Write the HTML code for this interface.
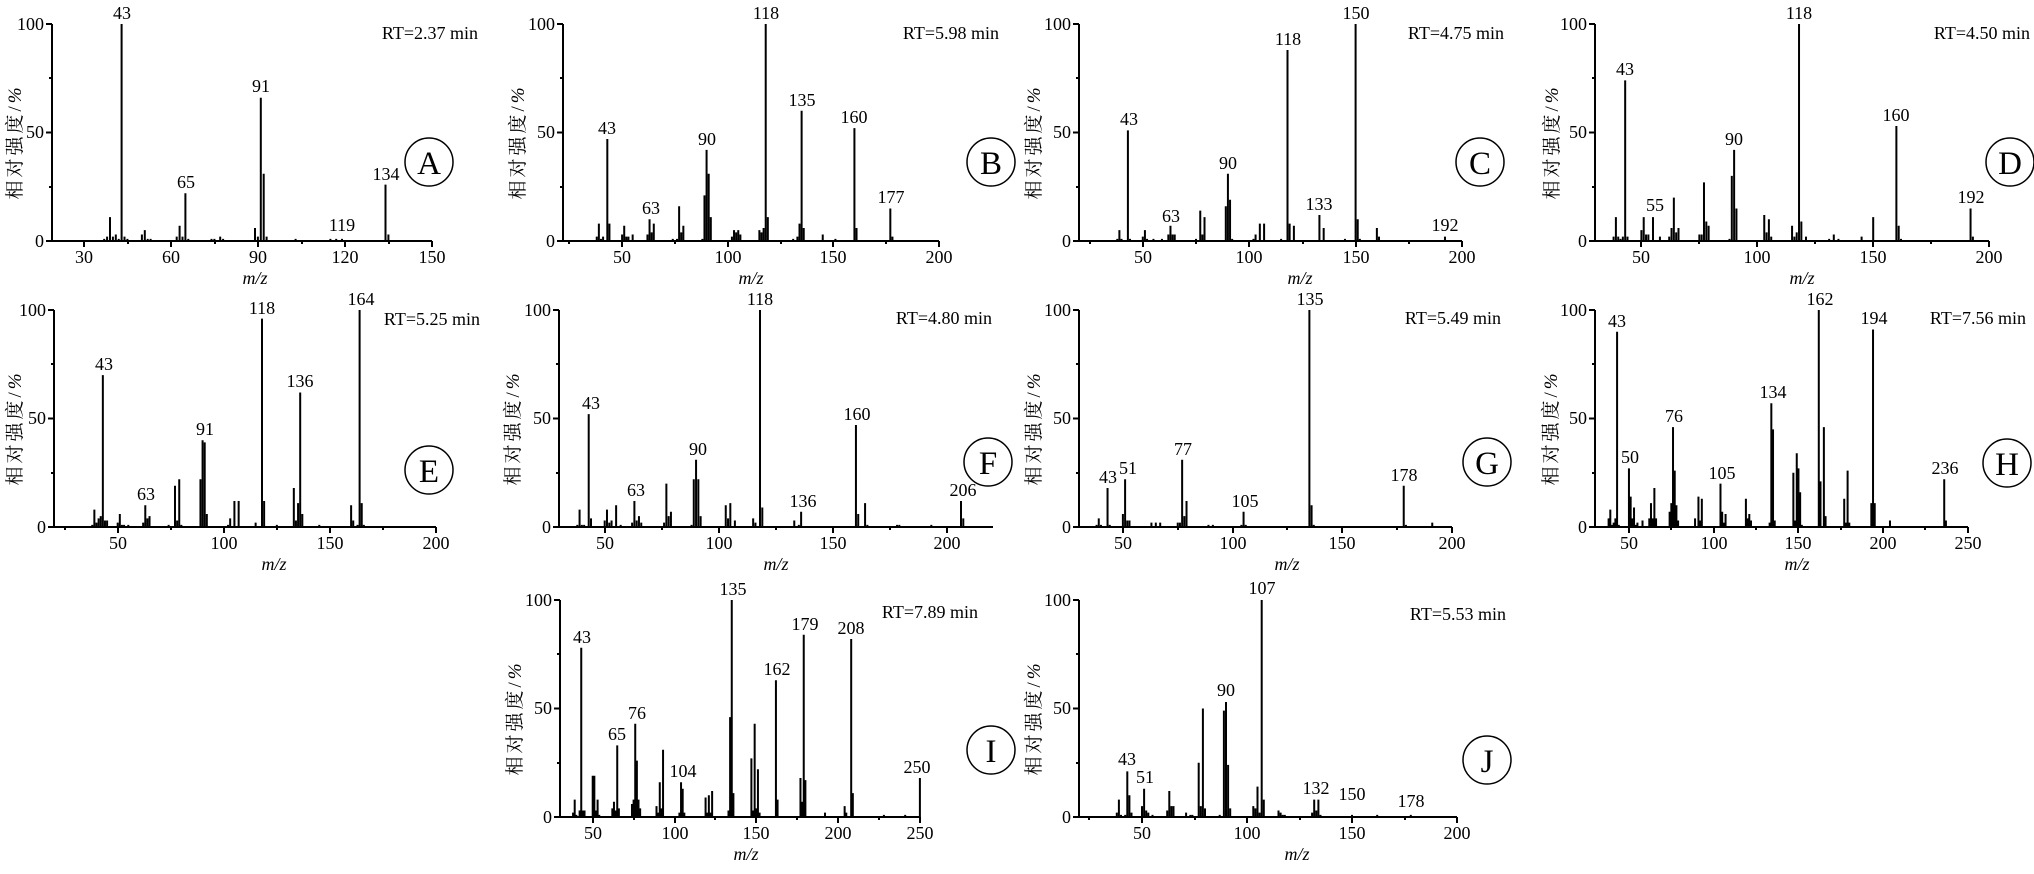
<!DOCTYPE html>
<html><head><meta charset="utf-8"><style>
html,body{margin:0;padding:0;background:#fff;}
svg{display:block;}
text{font-family:"Liberation Serif","Noto Serif CJK SC",serif;font-size:18px;fill:#000;}
.m{text-anchor:middle}.e{text-anchor:end}
.yl{font-size:19px;letter-spacing:3px;text-anchor:middle;font-family:"Liberation Serif","Noto Serif CJK SC",serif;}
.mz{font-style:italic;text-anchor:middle}
.c{font-size:33px;text-anchor:middle}
.bar{fill:none;stroke:#000;stroke-width:2;vector-effect:non-scaling-stroke}
.ax{stroke:#000;stroke-width:2;fill:none}
circle{fill:none;stroke:#000;stroke-width:1.5}
</style></head><body>
<svg width="2034" height="874" viewBox="0 0 2034 874" xmlns="http://www.w3.org/2000/svg">

<!-- ===== A ===== -->
<g transform="translate(-3.1,241) scale(2.9,-2.17)"><path class="bar" d="M37 0V1M38 0V2M39 0V11M40 0V2M41 0V3M42 0V1M43 0V100M44 0V2M45 0V1M50 0V3M51 0V5M52 0V1M53 0V1M62 0V2M63 0V7M64 0V2M65 0V22M66 0V1M74 0V1M75 0V1M77 0V2M78 0V1M89 0V6M90 0V2M91 0V66M92 0V31M93 0V2M103 0V1M115 0V1M117 0V1M119 0V1M134 0V26M135 0V3"/></g>
<path class="ax" d="M52 24V241H432M52 24h-6M52 78h-3M52 132.5h-6M52 187h-3M52 241h-6M84 241v6M171 241v6M258 241v6M345 241v6M432 241v6M128 241v3M215 241v3M302 241v3M389 241v3"/>
<text class="e" x="44" y="30">100</text><text class="e" x="44" y="138">50</text><text class="e" x="44" y="247">0</text>
<text class="m" x="84" y="263">30</text><text class="m" x="171" y="263">60</text><text class="m" x="258" y="263">90</text><text class="m" x="345" y="263">120</text><text class="m" x="432" y="263">150</text>
<text class="mz" x="255" y="284">m/z</text>
<text class="yl" transform="translate(21,142) rotate(-90)">相对强度/<tspan font-style="italic">%</tspan></text>
<text class="e" x="478" y="39">RT=2.37 min</text>
<text class="m" x="122" y="19">43</text><text class="m" x="261" y="92">91</text><text class="m" x="186" y="188">65</text><text class="m" x="342" y="231">119</text><text class="m" x="386" y="180">134</text>
<circle cx="429" cy="162" r="24"/><text class="c" x="429" cy="0" y="174">A</text>

<!-- ===== B ===== -->
<g transform="translate(516.5,241) scale(2.112,-2.17)"><path class="bar" d="M38 0V2M39 0V8M40 0V1M41 0V2M43 0V47M44 0V8M50 0V3M51 0V7M52 0V2M53 0V2M55 0V3M62 0V3M63 0V10M64 0V4M65 0V8M74 0V1M76 0V1M77 0V16M78 0V4M79 0V7M88 0V1M89 0V21M90 0V42M91 0V31M92 0V11M102 0V2M103 0V5M104 0V4M105 0V5M106 0V3M115 0V5M116 0V4M117 0V6M118 0V100M119 0V11M131 0V1M133 0V2M134 0V8M135 0V60M136 0V6M145 0V3M151 0V1M160 0V52M161 0V6M177 0V15M178 0V2"/></g>
<path class="ax" d="M563 24V241H939M563 24h-6M563 78h-3M563 132.5h-6M563 187h-3M563 241h-6M622 241v6M728 241v6M833 241v6M939 241v6M569 241v3M675 241v3M781 241v3M886 241v3"/>
<text class="e" x="555" y="30">100</text><text class="e" x="555" y="138">50</text><text class="e" x="555" y="247">0</text>
<text class="m" x="622" y="263">50</text><text class="m" x="728" y="263">100</text><text class="m" x="833" y="263">150</text><text class="m" x="939" y="263">200</text>
<text class="mz" x="751" y="284">m/z</text>
<text class="yl" transform="translate(524,142) rotate(-90)">相对强度/<tspan font-style="italic">%</tspan></text>
<text class="e" x="999" y="39">RT=5.98 min</text>
<text class="m" x="607" y="134">43</text><text class="m" x="651" y="214">63</text><text class="m" x="707" y="145">90</text><text class="m" x="766" y="19">118</text><text class="m" x="802" y="106">135</text><text class="m" x="854" y="123">160</text><text class="m" x="891" y="203">177</text>
<circle cx="991" cy="162" r="24"/><text class="c" x="991" y="174">B</text>

<!-- ===== C ===== -->
<g transform="translate(1036.4,241) scale(2.128,-2.17)"><path class="bar" d="M38 0V1M39 0V5M40 0V1M43 0V51M44 0V1M50 0V2M51 0V5M52 0V1M55 0V1M59 0V1M62 0V3M63 0V7M64 0V3M65 0V3M75 0V1M77 0V14M78 0V3M79 0V11M89 0V16M90 0V31M91 0V19M92 0V1M102 0V1M103 0V3M105 0V8M107 0V8M115 0V1M118 0V88M119 0V8M121 0V7M133 0V12M135 0V6M145 0V1M150 0V100M151 0V10M152 0V1M160 0V6M161 0V2M192 0V2"/></g>
<path class="ax" d="M1079 24V241H1462M1079 24h-6M1079 78h-3M1079 132.5h-6M1079 187h-3M1079 241h-6M1143 241v6M1249 241v6M1356 241v6M1462 241v6M1090 241v3M1196 241v3M1303 241v3M1409 241v3"/>
<text class="e" x="1071" y="30">100</text><text class="e" x="1071" y="138">50</text><text class="e" x="1071" y="247">0</text>
<text class="m" x="1143" y="263">50</text><text class="m" x="1249" y="263">100</text><text class="m" x="1356" y="263">150</text><text class="m" x="1462" y="263">200</text>
<text class="mz" x="1300" y="284">m/z</text>
<text class="yl" transform="translate(1040,142) rotate(-90)">相对强度/<tspan font-style="italic">%</tspan></text>
<text class="e" x="1504" y="39">RT=4.75 min</text>
<text class="m" x="1129" y="125">43</text><text class="m" x="1171" y="222">63</text><text class="m" x="1228" y="169">90</text><text class="m" x="1288" y="45">118</text><text class="m" x="1319" y="210">133</text><text class="m" x="1356" y="19">150</text><text class="m" x="1445" y="231">192</text>
<circle cx="1480" cy="162" r="24"/><text class="c" x="1480" y="174">C</text>

<!-- ===== D ===== -->
<g transform="translate(1525.5,241) scale(2.318,-2.17)"><path class="bar" d="M38 0V2M39 0V11M40 0V2M41 0V1M42 0V2M43 0V74M44 0V2M50 0V5M51 0V11M52 0V3M53 0V3M55 0V11M58 0V2M62 0V2M63 0V6M64 0V20M65 0V4M66 0V6M75 0V3M76 0V3M77 0V27M78 0V9M79 0V7M88 0V1M89 0V30M90 0V42M91 0V15M103 0V12M104 0V4M105 0V10M106 0V2M115 0V7M116 0V2M117 0V4M118 0V100M119 0V9M121 0V2M131 0V1M133 0V3M135 0V1M145 0V2M150 0V11M160 0V53M161 0V7M162 0V1M192 0V15M193 0V2"/></g>
<path class="ax" d="M1595 24V241H1989M1595 24h-6M1595 78h-3M1595 132.5h-6M1595 187h-3M1595 241h-6M1641 241v6M1757 241v6M1873 241v6M1989 241v6M1699 241v3M1815 241v3M1931 241v3"/>
<text class="e" x="1587" y="30">100</text><text class="e" x="1587" y="138">50</text><text class="e" x="1587" y="247">0</text>
<text class="m" x="1641" y="263">50</text><text class="m" x="1757" y="263">100</text><text class="m" x="1873" y="263">150</text><text class="m" x="1989" y="263">200</text>
<text class="mz" x="1802" y="284">m/z</text>
<text class="yl" transform="translate(1558,142) rotate(-90)">相对强度/<tspan font-style="italic">%</tspan></text>
<text class="e" x="2030" y="39">RT=4.50 min</text>
<text class="m" x="1625" y="75">43</text><text class="m" x="1655" y="211">55</text><text class="m" x="1734" y="145">90</text><text class="m" x="1799" y="19">118</text><text class="m" x="1896" y="121">160</text><text class="m" x="1971" y="203">192</text>
<circle cx="2010" cy="162" r="24"/><text class="c" x="2010" y="174">D</text>

<!-- ===== E ===== -->
<g transform="translate(11.6,527) scale(2.122,-2.17)"><path class="bar" d="M38 0V1M39 0V8M40 0V2M41 0V4M42 0V5M43 0V70M44 0V3M45 0V3M50 0V2M51 0V6M52 0V1M53 0V1M55 0V1M62 0V2M63 0V10M64 0V4M65 0V5M74 0V1M77 0V19M78 0V3M79 0V22M80 0V1M89 0V22M90 0V40M91 0V39M92 0V6M102 0V1M103 0V4M105 0V12M107 0V12M115 0V2M118 0V96M119 0V12M125 0V1M133 0V18M134 0V3M135 0V11M136 0V62M137 0V6M145 0V1M160 0V10M161 0V3M163 0V1M164 0V100M165 0V11M166 0V1"/></g>
<path class="ax" d="M54 310V527H436M54 310h-6M54 364h-3M54 418.5h-6M54 473h-3M54 527h-6M118 527v6M224 527v6M330 527v6M436 527v6M65 527v3M171 527v3M277 527v3M383 527v3"/>
<text class="e" x="46" y="316">100</text><text class="e" x="46" y="424">50</text><text class="e" x="46" y="533">0</text>
<text class="m" x="118" y="549">50</text><text class="m" x="224" y="549">100</text><text class="m" x="330" y="549">150</text><text class="m" x="436" y="549">200</text>
<text class="mz" x="274" y="570">m/z</text>
<text class="yl" transform="translate(21,428) rotate(-90)">相对强度/<tspan font-style="italic">%</tspan></text>
<text class="e" x="480" y="325">RT=5.25 min</text>
<text class="m" x="104" y="370">43</text><text class="m" x="146" y="500">63</text><text class="m" x="205" y="435">91</text><text class="m" x="262" y="314">118</text><text class="m" x="300" y="387">136</text><text class="m" x="361" y="305">164</text>
<circle cx="429" cy="470" r="24"/><text class="c" x="429" y="482">E</text>

<!-- ===== F ===== -->
<g transform="translate(490.5,527) scale(2.284,-2.17)"><path class="bar" d="M38 0V1M39 0V8M40 0V1M41 0V1M43 0V52M44 0V4M50 0V3M51 0V8M52 0V2M53 0V3M55 0V10M57 0V1M62 0V2M63 0V12M64 0V3M65 0V5M66 0V2M76 0V2M77 0V20M78 0V5M79 0V7M88 0V1M89 0V22M90 0V31M91 0V22M92 0V5M103 0V10M104 0V4M105 0V11M107 0V3M115 0V4M116 0V2M118 0V100M119 0V9M133 0V3M135 0V1M136 0V7M160 0V47M161 0V6M164 0V11M165 0V1M178 0V1M179 0V1M193 0V1M206 0V12M207 0V4"/></g>
<path class="ax" d="M559 310V527H993M559 310h-6M559 364h-3M559 418.5h-6M559 473h-3M559 527h-6M605 527v6M719 527v6M833 527v6M947 527v6M662 527v3M776 527v3M890 527v3"/>
<text class="e" x="551" y="316">100</text><text class="e" x="551" y="424">50</text><text class="e" x="551" y="533">0</text>
<text class="m" x="605" y="549">50</text><text class="m" x="719" y="549">100</text><text class="m" x="833" y="549">150</text><text class="m" x="947" y="549">200</text>
<text class="mz" x="776" y="570">m/z</text>
<text class="yl" transform="translate(519,428) rotate(-90)">相对强度/<tspan font-style="italic">%</tspan></text>
<text class="e" x="992" y="324">RT=4.80 min</text>
<text class="m" x="591" y="409">43</text><text class="m" x="636" y="496">63</text><text class="m" x="698" y="455">90</text><text class="m" x="760" y="305">118</text><text class="m" x="803" y="507">136</text><text class="m" x="857" y="420">160</text><text class="m" x="963" y="496">206</text>
<circle cx="988" cy="462" r="24"/><text class="c" x="988" y="474">F</text>

<!-- ===== G ===== -->
<g transform="translate(1013.2,527) scale(2.194,-2.17)"><path class="bar" d="M38 0V1M39 0V4M40 0V1M43 0V18M44 0V1M50 0V6M51 0V22M52 0V3M53 0V3M63 0V2M65 0V2M67 0V2M75 0V2M76 0V2M77 0V31M78 0V5M79 0V12M89 0V1M91 0V1M104 0V1M105 0V7M106 0V1M135 0V100M136 0V10M137 0V1M178 0V19M179 0V1M191 0V2"/></g>
<path class="ax" d="M1079 310V527H1452M1079 310h-6M1079 364h-3M1079 418.5h-6M1079 473h-3M1079 527h-6M1123 527v6M1233 527v6M1342 527v6M1452 527v6M1178 527v3M1287 527v3M1397 527v3"/>
<text class="e" x="1071" y="316">100</text><text class="e" x="1071" y="424">50</text><text class="e" x="1071" y="533">0</text>
<text class="m" x="1123" y="549">50</text><text class="m" x="1233" y="549">100</text><text class="m" x="1342" y="549">150</text><text class="m" x="1452" y="549">200</text>
<text class="mz" x="1287" y="570">m/z</text>
<text class="yl" transform="translate(1040,428) rotate(-90)">相对强度/<tspan font-style="italic">%</tspan></text>
<text class="e" x="1501" y="324">RT=5.49 min</text>
<text class="m" x="1108" y="483">43</text><text class="m" x="1128" y="474">51</text><text class="m" x="1183" y="455">77</text><text class="m" x="1245" y="507">105</text><text class="m" x="1310" y="305">135</text><text class="m" x="1404" y="481">178</text>
<circle cx="1487" cy="462" r="24"/><text class="c" x="1487" y="474">G</text>

<!-- ===== H ===== -->
<g transform="translate(1544.2,527) scale(1.695,-2.17)"><path class="bar" d="M38 0V4M39 0V8M40 0V1M41 0V2M42 0V4M43 0V90M44 0V1M50 0V27M51 0V14M52 0V4M53 0V9M54 0V1M55 0V2M58 0V3M62 0V4M63 0V11M64 0V4M65 0V18M66 0V4M74 0V7M75 0V11M76 0V46M77 0V26M78 0V10M79 0V3M89 0V4M91 0V14M92 0V3M93 0V13M104 0V20M105 0V7M106 0V2M107 0V6M119 0V13M120 0V4M121 0V6M122 0V3M133 0V2M134 0V57M135 0V45M136 0V3M147 0V25M148 0V3M149 0V34M150 0V27M151 0V16M152 0V1M162 0V100M163 0V21M165 0V46M166 0V5M177 0V13M178 0V2M179 0V26M180 0V2M193 0V11M194 0V91M195 0V11M204 0V3M236 0V22M237 0V3"/></g>
<path class="ax" d="M1595 310V527H1968M1595 310h-6M1595 364h-3M1595 418.5h-6M1595 473h-3M1595 527h-6M1629 527v6M1714 527v6M1798 527v6M1883 527v6M1968 527v6M1671 527v3M1756 527v3M1841 527v3M1925 527v3"/>
<text class="e" x="1587" y="316">100</text><text class="e" x="1587" y="424">50</text><text class="e" x="1587" y="533">0</text>
<text class="m" x="1629" y="549">50</text><text class="m" x="1714" y="549">100</text><text class="m" x="1798" y="549">150</text><text class="m" x="1883" y="549">200</text><text class="m" x="1968" y="549">250</text>
<text class="mz" x="1797" y="570">m/z</text>
<text class="yl" transform="translate(1557,428) rotate(-90)">相对强度/<tspan font-style="italic">%</tspan></text>
<text class="e" x="2026" y="324">RT=7.56 min</text>
<text class="m" x="1617" y="327">43</text><text class="m" x="1630" y="463">50</text><text class="m" x="1674" y="422">76</text><text class="m" x="1722" y="479">105</text><text class="m" x="1773" y="398">134</text><text class="m" x="1820" y="305">162</text><text class="m" x="1874" y="324">194</text><text class="m" x="1945" y="474">236</text>
<circle cx="2007" cy="463" r="24"/><text class="c" x="2007" y="475">H</text>

<!-- ===== I ===== -->
<g transform="translate(510.9,817) scale(1.636,-2.17)"><path class="bar" d="M38 0V2M39 0V8M40 0V1M42 0V3M43 0V78M44 0V3M45 0V3M50 0V19M51 0V19M52 0V3M53 0V8M54 0V1M62 0V4M63 0V7M64 0V3M65 0V33M66 0V4M74 0V6M75 0V8M76 0V43M77 0V26M78 0V8M79 0V4M89 0V5M90 0V2M91 0V16M92 0V4M93 0V31M103 0V2M104 0V16M105 0V13M106 0V2M119 0V9M120 0V2M121 0V10M122 0V2M123 0V12M133 0V3M134 0V46M135 0V100M136 0V11M147 0V27M148 0V3M149 0V43M150 0V4M151 0V22M152 0V2M162 0V63M163 0V8M177 0V18M178 0V7M179 0V84M180 0V17M192 0V2M204 0V5M205 0V2M208 0V82M209 0V11M228 0V1M241 0V1M250 0V18"/></g>
<path class="ax" d="M560 600V817H920M560 600h-6M560 654h-3M560 708.5h-6M560 763h-3M560 817h-6M593 817v6M675 817v6M756 817v6M838 817v6M920 817v6M634 817v3M715 817v3M797 817v3M879 817v3"/>
<text class="e" x="552" y="606">100</text><text class="e" x="552" y="714">50</text><text class="e" x="552" y="823">0</text>
<text class="m" x="593" y="839">50</text><text class="m" x="675" y="839">100</text><text class="m" x="756" y="839">150</text><text class="m" x="838" y="839">200</text><text class="m" x="920" y="839">250</text>
<text class="mz" x="746" y="860">m/z</text>
<text class="yl" transform="translate(521,718) rotate(-90)">相对强度/<tspan font-style="italic">%</tspan></text>
<text class="e" x="978" y="618">RT=7.89 min</text>
<text class="m" x="582" y="643">43</text><text class="m" x="617" y="740">65</text><text class="m" x="637" y="719">76</text><text class="m" x="683" y="777">104</text><text class="m" x="733" y="595">135</text><text class="m" x="777" y="675">162</text><text class="m" x="805" y="630">179</text><text class="m" x="851" y="634">208</text><text class="m" x="917" y="773">250</text>
<circle cx="991" cy="750" r="24"/><text class="c" x="991" y="762">I</text>

<!-- ===== J ===== -->
<g transform="translate(1037,817) scale(2.1,-2.17)"><path class="bar" d="M38 0V2M39 0V8M40 0V1M42 0V1M43 0V21M44 0V10M45 0V2M50 0V5M51 0V13M52 0V3M53 0V2M55 0V1M62 0V3M63 0V12M64 0V5M65 0V5M71 0V2M73 0V1M74 0V1M77 0V25M78 0V5M79 0V50M80 0V4M87 0V1M89 0V49M90 0V53M91 0V24M92 0V4M103 0V5M104 0V4M105 0V14M106 0V2M107 0V100M108 0V8M115 0V3M116 0V2M117 0V1M118 0V1M131 0V2M132 0V8M133 0V3M134 0V8M135 0V1M150 0V1M162 0V1M178 0V1"/></g>
<path class="ax" d="M1079 600V817H1457M1079 600h-6M1079 654h-3M1079 708.5h-6M1079 763h-3M1079 817h-6M1142 817v6M1247 817v6M1352 817v6M1457 817v6M1089 817v3M1195 817v3M1300 817v3M1405 817v3"/>
<text class="e" x="1071" y="606">100</text><text class="e" x="1071" y="714">50</text><text class="e" x="1071" y="823">0</text>
<text class="m" x="1142" y="839">50</text><text class="m" x="1247" y="839">100</text><text class="m" x="1352" y="839">150</text><text class="m" x="1457" y="839">200</text>
<text class="mz" x="1297" y="860">m/z</text>
<text class="yl" transform="translate(1040,718) rotate(-90)">相对强度/<tspan font-style="italic">%</tspan></text>
<text class="e" x="1506" y="620">RT=5.53 min</text>
<text class="m" x="1127" y="765">43</text><text class="m" x="1145" y="783">51</text><text class="m" x="1226" y="696">90</text><text class="m" x="1262" y="594">107</text><text class="m" x="1316" y="794">132</text><text class="m" x="1352" y="800">150</text><text class="m" x="1411" y="807">178</text>
<circle cx="1487" cy="760" r="24"/><text class="c" x="1487" y="772">J</text>

</svg>
</body></html>
